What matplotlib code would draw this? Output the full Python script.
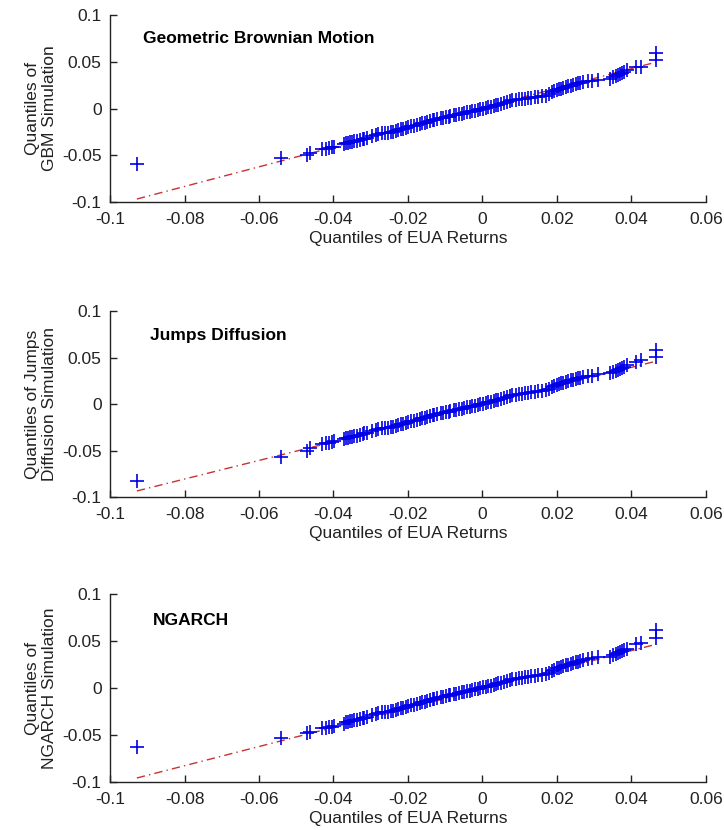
import matplotlib
matplotlib.use('Agg')
import matplotlib.pyplot as plt

# quantiles of EUA returns (x, shared by all three panels)
eua_q = [
    -0.0928, -0.0540, -0.0470, -0.0463, -0.0431, -0.0419, -0.0413, -0.0404, -0.0399, -0.0371,
    -0.0366, -0.0361, -0.0356, -0.0349, -0.0344, -0.0338, -0.0329, -0.0322, -0.0317, -0.0311,
    -0.0296, -0.0287, -0.0281, -0.0269, -0.0262, -0.0254, -0.0246, -0.0241, -0.0233, -0.0228,
    -0.0220, -0.0213, -0.0204, -0.0199, -0.0191, -0.0184, -0.0176, -0.0169, -0.0163, -0.0155,
    -0.0150, -0.0142, -0.0134, -0.0129, -0.0121, -0.0112, -0.0106, -0.0098, -0.0091, -0.0086,
    -0.0077, -0.0070, -0.0064, -0.0055, -0.0049, -0.0042, -0.0034, -0.0029, -0.0021, -0.0013,
    -0.0006, 0.0002, 0.0009, 0.0015, 0.0023, 0.0030, 0.0036, 0.0043, 0.0051, 0.0058,
    0.0066, 0.0074, 0.0080, 0.0089, 0.0097, 0.0106, 0.0115, 0.0123, 0.0131, 0.0142,
    0.0150, 0.0161, 0.0170, 0.0178, 0.0186, 0.0193, 0.0199, 0.0205, 0.0211, 0.0217,
    0.0224, 0.0231, 0.0237, 0.0244, 0.0250, 0.0257, 0.0263, 0.0269, 0.0284, 0.0293,
    0.0311, 0.0342, 0.0351, 0.0358, 0.0364, 0.0370, 0.0376, 0.0381, 0.0387, 0.0411,
    0.0427, 0.0466, 0.0466]

# quantiles of the simulations (y)
gbm_q = [
    -0.0594, -0.0530, -0.0492, -0.0478, -0.0438, -0.0431, -0.0422, -0.0415, -0.0408, -0.0382,
    -0.0372, -0.0366, -0.0360, -0.0355, -0.0350, -0.0344, -0.0336, -0.0328, -0.0321, -0.0312,
    -0.0296, -0.0282, -0.0272, -0.0266, -0.0262, -0.0258, -0.0253, -0.0248, -0.0240, -0.0232,
    -0.0224, -0.0216, -0.0207, -0.0200, -0.0192, -0.0183, -0.0175, -0.0168, -0.0160, -0.0150,
    -0.0144, -0.0136, -0.0128, -0.0122, -0.0115, -0.0106, -0.0099, -0.0092, -0.0086, -0.0081,
    -0.0074, -0.0068, -0.0062, -0.0054, -0.0049, -0.0042, -0.0035, -0.0030, -0.0022, -0.0015,
    -0.0008, -0.0001, 0.0006, 0.0012, 0.0019, 0.0027, 0.0034, 0.0042, 0.0049, 0.0057,
    0.0066, 0.0078, 0.0086, 0.0092, 0.0097, 0.0102, 0.0107, 0.0111, 0.0116, 0.0121,
    0.0126, 0.0131, 0.0138, 0.0150, 0.0172, 0.0188, 0.0198, 0.0206, 0.0213, 0.0221,
    0.0229, 0.0237, 0.0246, 0.0253, 0.0261, 0.0268, 0.0276, 0.0283, 0.0292, 0.0299,
    0.0305, 0.0316, 0.0340, 0.0352, 0.0361, 0.0372, 0.0383, 0.0395, 0.0412, 0.0444,
    0.0446, 0.0519, 0.0594]

jump_q = [
    -0.0828, -0.0565, -0.0500, -0.0470, -0.0428, -0.0420, -0.0414, -0.0408, -0.0400, -0.0376,
    -0.0368, -0.0362, -0.0356, -0.0351, -0.0345, -0.0339, -0.0331, -0.0323, -0.0316, -0.0307,
    -0.0291, -0.0278, -0.0268, -0.0262, -0.0258, -0.0254, -0.0249, -0.0243, -0.0235, -0.0227,
    -0.0219, -0.0211, -0.0202, -0.0195, -0.0187, -0.0178, -0.0170, -0.0163, -0.0155, -0.0146,
    -0.0139, -0.0131, -0.0123, -0.0117, -0.0110, -0.0101, -0.0094, -0.0087, -0.0081, -0.0076,
    -0.0069, -0.0063, -0.0057, -0.0049, -0.0044, -0.0037, -0.0030, -0.0025, -0.0017, -0.0010,
    -0.0003, 0.0004, 0.0011, 0.0017, 0.0024, 0.0032, 0.0039, 0.0047, 0.0054, 0.0062,
    0.0071, 0.0083, 0.0092, 0.0099, 0.0105, 0.0111, 0.0117, 0.0122, 0.0127, 0.0133,
    0.0138, 0.0143, 0.0149, 0.0160, 0.0181, 0.0196, 0.0207, 0.0215, 0.0222, 0.0230,
    0.0238, 0.0246, 0.0254, 0.0261, 0.0268, 0.0275, 0.0282, 0.0289, 0.0297, 0.0305,
    0.0318, 0.0330, 0.0348, 0.0358, 0.0366, 0.0376, 0.0386, 0.0398, 0.0414, 0.0450,
    0.0470, 0.0505, 0.0580]

ngarch_q = [
    -0.0628, -0.0532, -0.0478, -0.0466, -0.0430, -0.0424, -0.0416, -0.0410, -0.0402, -0.0378,
    -0.0366, -0.0360, -0.0354, -0.0348, -0.0343, -0.0337, -0.0329, -0.0321, -0.0314, -0.0305,
    -0.0289, -0.0276, -0.0266, -0.0260, -0.0256, -0.0252, -0.0247, -0.0241, -0.0233, -0.0225,
    -0.0217, -0.0209, -0.0200, -0.0193, -0.0185, -0.0176, -0.0168, -0.0161, -0.0153, -0.0144,
    -0.0137, -0.0129, -0.0121, -0.0115, -0.0108, -0.0099, -0.0092, -0.0085, -0.0079, -0.0074,
    -0.0067, -0.0061, -0.0055, -0.0047, -0.0042, -0.0035, -0.0028, -0.0023, -0.0015, -0.0008,
    -0.0001, 0.0006, 0.0013, 0.0019, 0.0026, 0.0034, 0.0041, 0.0049, 0.0056, 0.0064,
    0.0073, 0.0085, 0.0093, 0.0100, 0.0106, 0.0111, 0.0117, 0.0122, 0.0127, 0.0132,
    0.0137, 0.0142, 0.0148, 0.0159, 0.0180, 0.0196, 0.0208, 0.0217, 0.0225, 0.0233,
    0.0241, 0.0249, 0.0257, 0.0264, 0.0272, 0.0280, 0.0288, 0.0296, 0.0305, 0.0318,
    0.0327, 0.0334, 0.0350, 0.0362, 0.0371, 0.0381, 0.0392, 0.0404, 0.0420, 0.0470,
    0.0482, 0.0530, 0.0617]

# reference lines (end points)
ref_x = [-0.0928, 0.0466]
ref_gbm = [-0.0968, 0.0496]
ref_jump = [-0.0935, 0.0460]
ref_ngarch = [-0.0957, 0.0465]

titles = ['Geometric Brownian Motion', 'Jumps Diffusion', 'NGARCH']
ylabels = ['Quantiles of\nGBM Simulation',
           'Quantiles of Jumps\nDiffusion Simulation',
           'Quantiles of\nNGARCH Simulation']
title_pos = [(-0.0911, 0.0754), (-0.0893, 0.074), (-0.0885, 0.072)]

xticks = [-0.1, -0.08, -0.06, -0.04, -0.02, 0, 0.02, 0.04, 0.06]
xticklabels = ['-0.1', '-0.08', '-0.06', '-0.04', '-0.02', '0', '0.02', '0.04', '0.06']
yticks = [-0.1, -0.05, 0, 0.05, 0.1]
yticklabels = ['-0.1', '-0.05', '0', '0.05', '0.1']

plt.rcParams['font.family'] = ['Liberation Sans', 'DejaVu Sans']

fig = plt.figure(figsize=(7.24, 8.30), dpi=100)
paikat = [(0.152, 0.7566, 0.823, 0.2253),
          (0.152, 0.4012, 0.823, 0.2241),
          (0.152, 0.0578, 0.823, 0.2265)]
sarjat = [gbm_q, jump_q, ngarch_q]
viivat = [ref_gbm, ref_jump, ref_ngarch]

for i in range(3):
    ax = fig.add_axes(paikat[i])
    ax.plot(ref_x, viivat[i], color='#c83232', lw=1.0, ls=(0, (6, 3, 1, 3)), zorder=1)
    ax.plot(eua_q, sarjat[i], ls='none', marker='+', ms=9.5, mew=1.2,
            color='#0000e6', zorder=2)
    ax.set_xlim(-0.1, 0.06)
    ax.set_ylim(-0.1, 0.1)
    ax.set_xticks(xticks)
    ax.set_xticklabels(xticklabels)
    ax.set_yticks(yticks)
    ax.set_yticklabels(yticklabels)
    for s in ['top', 'right']:
        ax.spines[s].set_visible(False)
    for s in ['left', 'bottom']:
        ax.spines[s].set_color('#222222')
        ax.spines[s].set_linewidth(1.0)
    ax.tick_params(direction='in', length=5, width=1, colors='#222222',
                   labelsize=12.5)
    ax.tick_params(axis='x', pad=7)
    ax.tick_params(axis='y', pad=6)
    ax.set_xlabel('Quantiles of EUA Returns', fontsize=12.5, labelpad=3, color='#222222')
    ax.set_ylabel(ylabels[i], fontsize=12.5, labelpad=4, color='#222222', linespacing=1.15)
    ax.text(title_pos[i][0], title_pos[i][1], titles[i], fontsize=12.5,
            fontweight='bold', va='center', ha='left', color='black')

fig.savefig('out.png', dpi=100)
